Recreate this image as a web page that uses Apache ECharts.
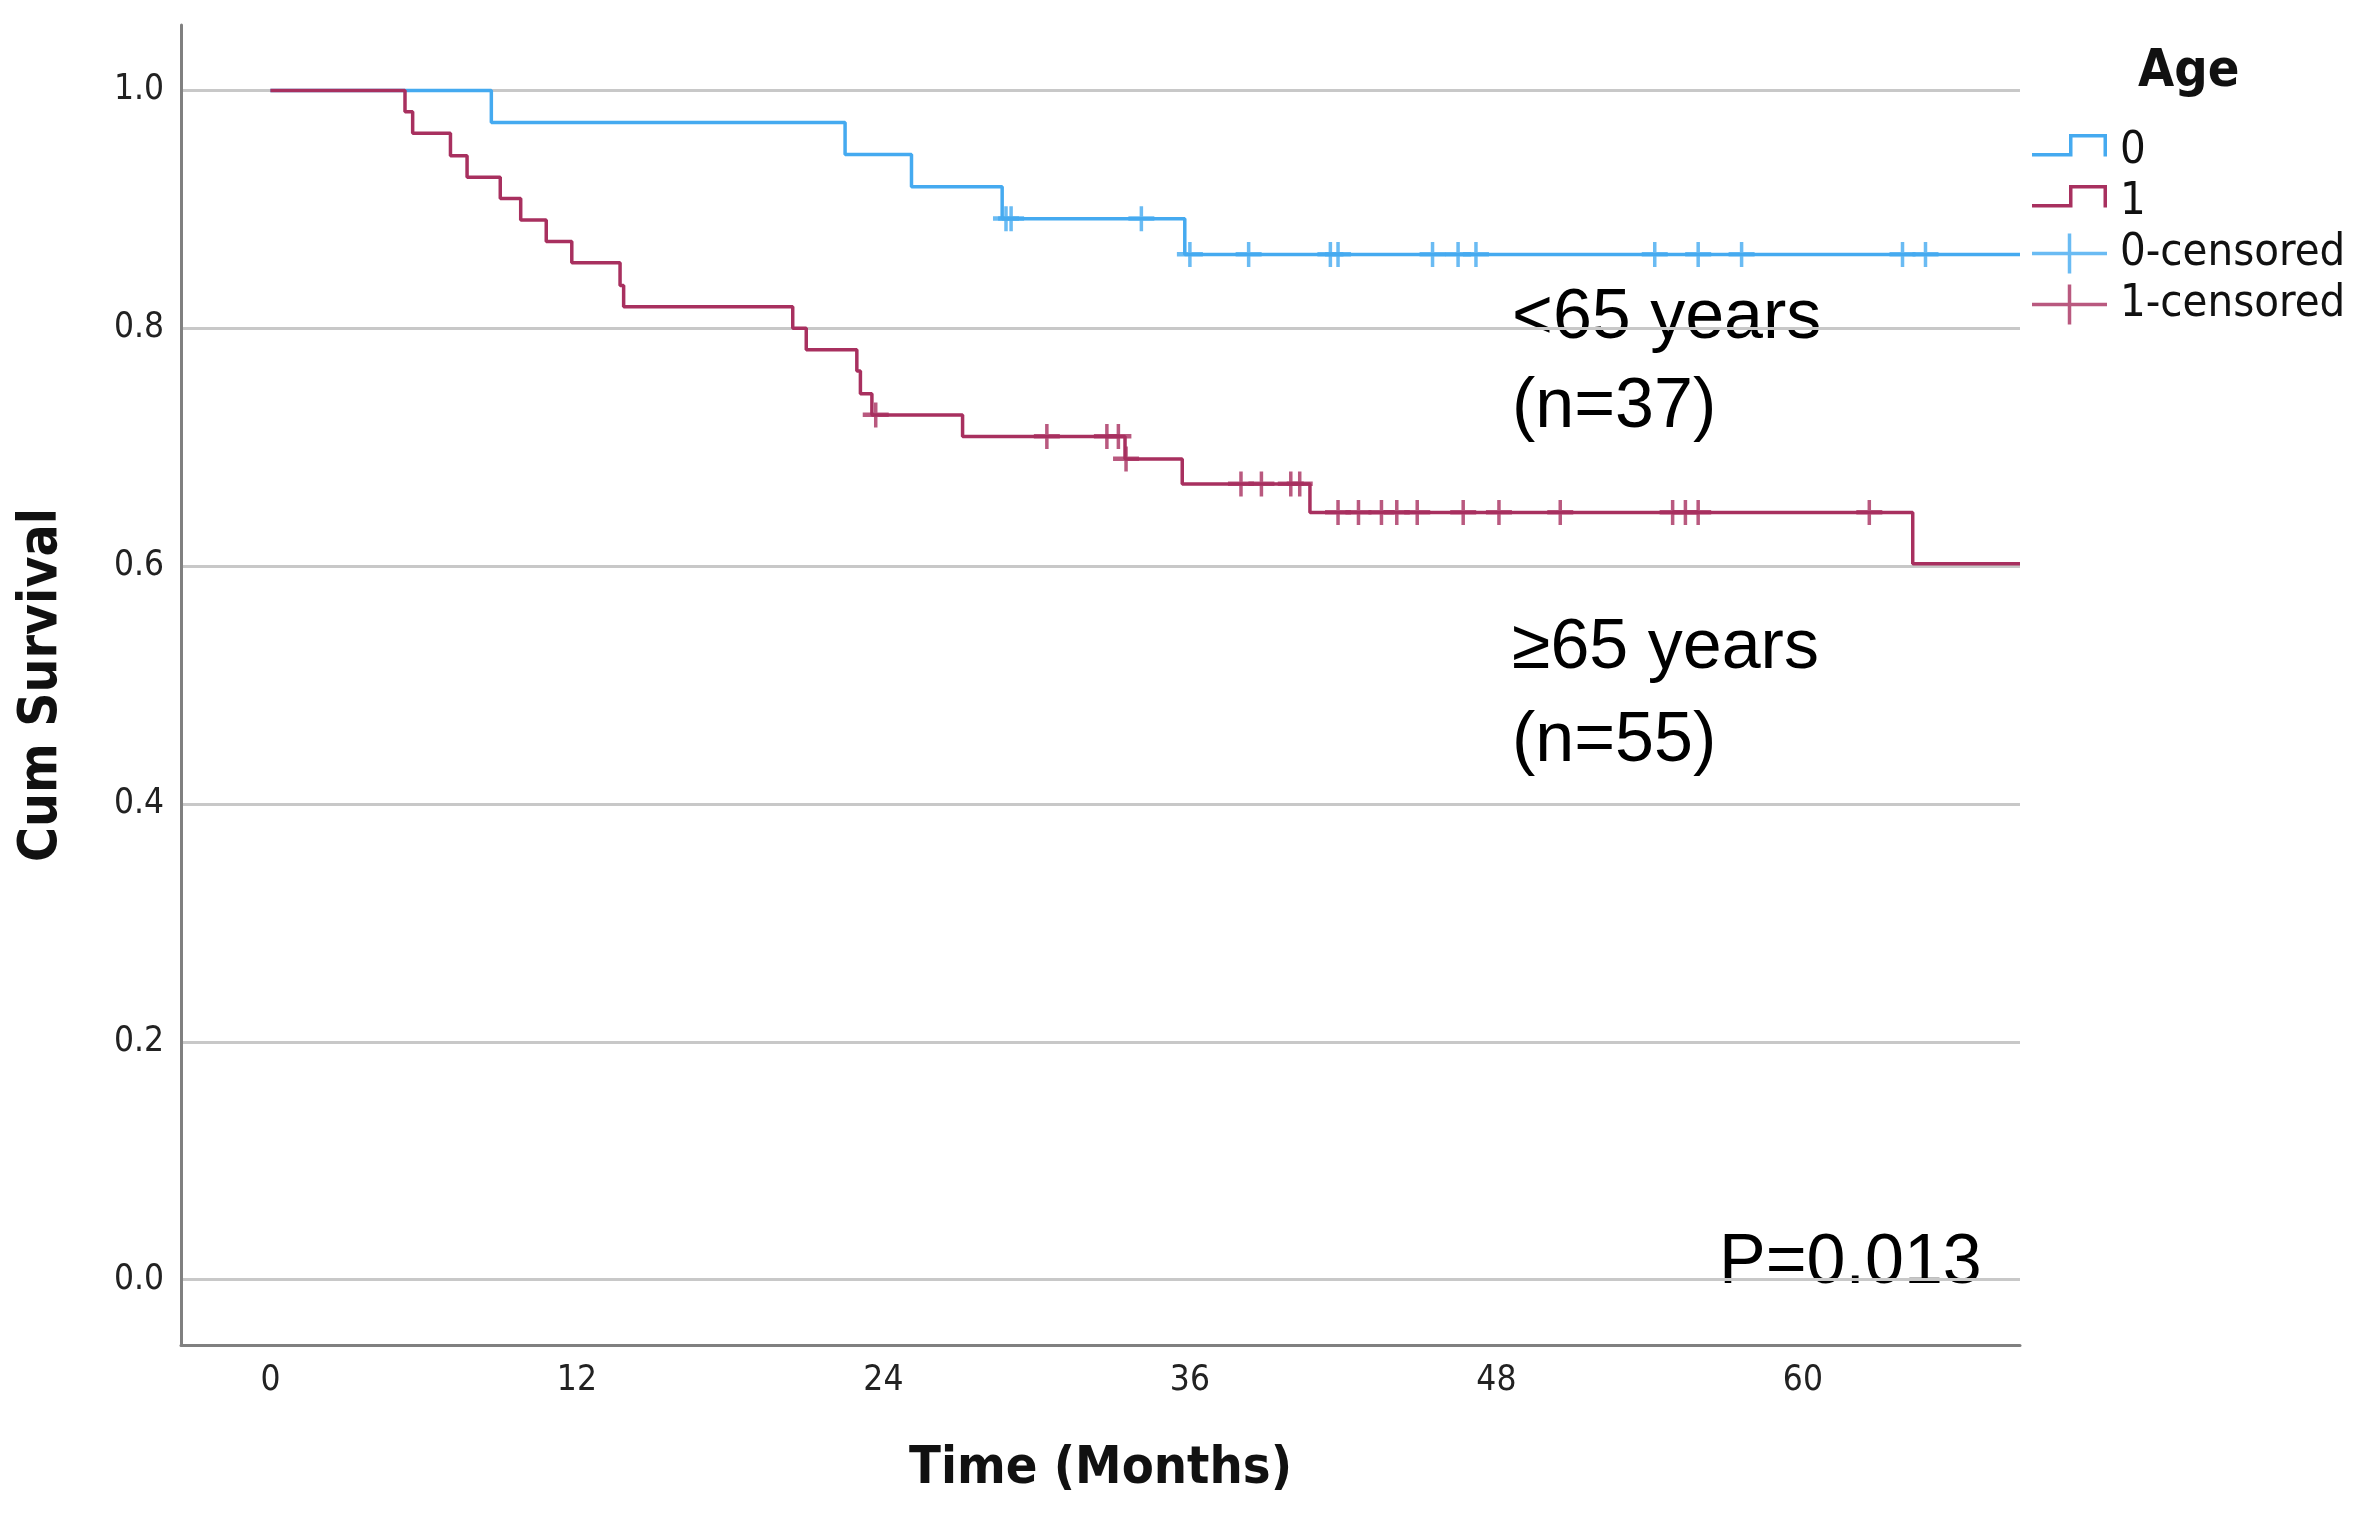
<!DOCTYPE html>
<html>
<head>
<meta charset="utf-8">
<script src="https://cdn.jsdelivr.net/npm/echarts@6/dist/echarts.min.js"></script>
<style>
html,body{margin:0;padding:0;background:#fff;}
#chart{width:2364px;height:1517px;}
</style>
</head>
<body>
<div id="chart"></div>
<script>
// ---- data ----
const xTicks = [0, 12, 24, 36, 48, 60];
const yTicks = [0, 0.2, 0.4, 0.6, 0.8, 1.0];

// Age 0 (<65 years) Kaplan-Meier steps
const blueTime = [0, 8.65, 22.5, 25.1, 28.65, 35.8, 68.5];
const blueSurv = [1.0, 0.973, 0.946, 0.919, 0.892, 0.862, 0.862];
// Age 1 (>=65 years)
const redTime = [0, 5.27, 5.57, 7.05, 7.7, 9.0, 9.8, 10.8, 11.8, 13.69, 13.83, 20.45, 20.98, 22.96, 23.1, 23.55, 27.1, 33.46, 35.7, 40.7, 64.3, 68.5];
const redSurv = [1.0, 0.982, 0.964, 0.945, 0.927, 0.909, 0.891, 0.873, 0.855, 0.836, 0.818, 0.800, 0.782, 0.764, 0.745, 0.727, 0.709, 0.690, 0.669, 0.645, 0.602, 0.602];

// censored observations
const blueCensTime = [28.8, 29.0, 34.1, 36.0, 38.3, 41.5, 41.8, 45.5, 46.5, 47.2, 54.2, 55.9, 57.6, 63.9, 64.8];
const blueCensSurv = [0.892, 0.892, 0.892, 0.862, 0.862, 0.862, 0.862, 0.862, 0.862, 0.862, 0.862, 0.862, 0.862, 0.862, 0.862];
const redCensTime = [23.7, 30.4, 32.75, 33.2, 33.5, 38.0, 38.8, 39.95, 40.3, 41.8, 42.6, 43.5, 44.1, 44.9, 46.7, 48.1, 50.5, 54.9, 55.4, 55.9, 62.6];
const redCensSurv = [0.727, 0.709, 0.709, 0.709, 0.690, 0.669, 0.669, 0.669, 0.669, 0.645, 0.645, 0.645, 0.645, 0.645, 0.645, 0.645, 0.645, 0.645, 0.645, 0.645, 0.645];

const seriesNames = ['0', '1', '0-censored', '1-censored'];
// ---- end data ----

const BLUE = '#45aaf0';
const RED = '#a8305f';
const CONDENSED = "'DejaVu Sans Condensed', 'Liberation Sans Narrow', 'DejaVu Sans', sans-serif";
const ARIAL = "'Liberation Sans', Arial, sans-serif";

const zip = (a, b) => a.map((v, i) => [v, b[i]]);

const anchors = ' M0,0 L0.01,0 L0,0.01 Z M75,40 L74.99,40 L75,39.99 Z';
const stepIcon = 'path://M0,21.5 L37,21.5 L37,2.5 L75,2.5 L75,25 L71.5,25 L71.5,6 L40.5,6 L40.5,25 L0,25 Z' + anchors;
const plusIcon = 'path://M0,18.25 L75,18.25 L75,21.75 L0,21.75 Z M35.75,0 L39.25,0 L39.25,40 L35.75,40 Z';
const plusMark = 'path://M0,10 L26,10 L26,14.5 L0,14.5 Z M11.25,0 L14.75,0 L14.75,25 L11.25,25 Z';

const chart = echarts.init(document.getElementById('chart'), null, {renderer: 'canvas'});

chart.setOption({
  backgroundColor: '#ffffff',
  animation: false,
  grid: {left: 181, right: 344, top: 25, bottom: 172, containLabel: false},
  xAxis: {
    type: 'value',
    min: -3.5,
    max: 68.5,
    name: 'Time (Months)',
    nameLocation: 'middle',
    nameGap: 98,
    nameTextStyle: {fontFamily: CONDENSED, fontWeight: 'bold', fontSize: 52, color: '#111'},
    axisLine: {show: true, onZero: false, lineStyle: {color: '#808080', width: 3}},
    axisTick: {show: false, customValues: xTicks},
    axisLabel: {customValues: xTicks, margin: 18, fontFamily: CONDENSED, fontSize: 35, color: '#222'},
    splitLine: {show: false}
  },
  yAxis: {
    type: 'value',
    min: -0.055,
    max: 1.055,
    name: 'Cum Survival',
    nameLocation: 'middle',
    nameGap: 112,
    nameTextStyle: {fontFamily: CONDENSED, fontWeight: 'bold', fontSize: 53, color: '#111'},
    axisLine: {show: true, onZero: false, lineStyle: {color: '#808080', width: 3}},
    axisTick: {show: false, customValues: yTicks},
    axisLabel: {customValues: yTicks, margin: 17, fontFamily: CONDENSED, fontSize: 35, color: '#222',
      formatter: v => v.toFixed(1)},
    splitLine: {show: true, lineStyle: {color: '#c8c8c8', width: 3}}
  },
  legend: {
    orient: 'vertical',
    left: 2027,
    top: 124,
    itemWidth: 75,
    itemHeight: 40,
    itemGap: 6,
    selectedMode: false,
    textStyle: {fontFamily: CONDENSED, fontSize: 45, color: '#111', lineHeight: 45, padding: [0, 0, 0, 8]},
    data: [
      {name: seriesNames[0], icon: stepIcon, itemStyle: {color: BLUE, borderWidth: 0}},
      {name: seriesNames[1], icon: stepIcon, itemStyle: {color: RED, borderWidth: 0}},
      {name: seriesNames[2], icon: plusIcon, itemStyle: {color: BLUE, borderWidth: 0}},
      {name: seriesNames[3], icon: plusIcon, itemStyle: {color: RED, borderWidth: 0}}
    ]
  },
  graphic: [
    {type: 'text', left: 2189 - 51, top: 46, style: {text: 'Age', font: "bold 52px " + CONDENSED, fill: '#111'}},
    {type: 'text', x: 1512, y: 319, style: {text: '<65 years', font: '70px ' + ARIAL, fill: '#000', verticalAlign: 'middle'}},
    {type: 'text', x: 1512, y: 408, style: {text: '(n=37)', font: '70px ' + ARIAL, fill: '#000', verticalAlign: 'middle'}},
    {type: 'text', x: 1512, y: 649, style: {text: '\u226565 years', font: '70px ' + ARIAL, fill: '#000', verticalAlign: 'middle'}},
    {type: 'text', x: 1512, y: 742, style: {text: '(n=55)', font: '70px ' + ARIAL, fill: '#000', verticalAlign: 'middle'}},
    {type: 'text', x: 1719, y: 1264, style: {text: 'P=0.013', font: '70px ' + ARIAL, fill: '#000', verticalAlign: 'middle'}}
  ],
  series: [
    {
      name: seriesNames[0], type: 'line', step: 'end', showSymbol: false, symbol: 'none',
      data: zip(blueTime, blueSurv), color: BLUE,
      lineStyle: {color: BLUE, width: 3.5}, z: 2
    },
    {
      name: seriesNames[1], type: 'line', step: 'end', showSymbol: false, symbol: 'none',
      data: zip(redTime, redSurv), color: RED,
      lineStyle: {color: RED, width: 3.5}, z: 3
    },
    {
      name: seriesNames[2], type: 'scatter', symbol: plusMark, symbolSize: [26, 25],
      data: zip(blueCensTime, blueCensSurv), itemStyle: {color: BLUE}, z: 4
    },
    {
      name: seriesNames[3], type: 'scatter', symbol: plusMark, symbolSize: [26, 25],
      data: zip(redCensTime, redCensSurv), itemStyle: {color: RED}, z: 5
    }
  ]
});
</script>
</body>
</html>
